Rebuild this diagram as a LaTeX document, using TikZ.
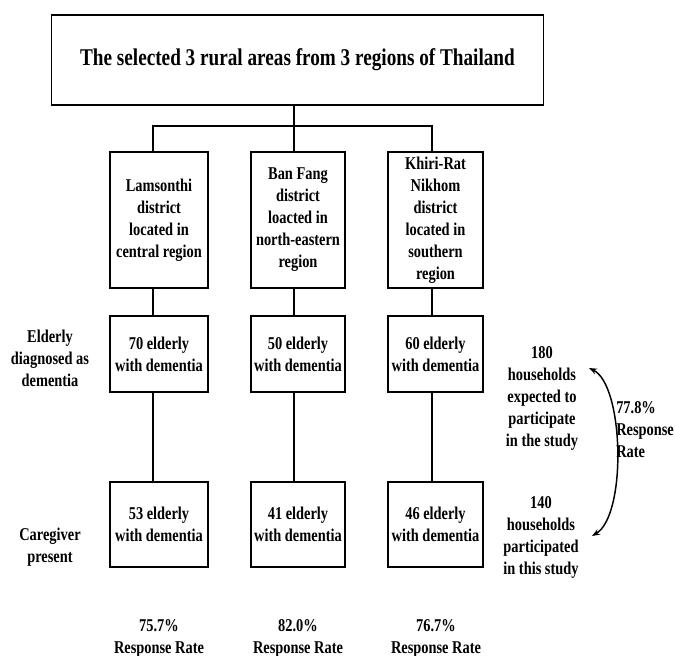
\documentclass[tikz,border=0pt]{standalone}
\usepackage{fontspec}
\setmainfont{Liberation Serif}[FakeStretch=0.8]
\usetikzlibrary{arrows.meta}
\begin{document}
\begin{tikzpicture}[x=0.75pt,y=-0.75pt,
  every node/.style={font=\bfseries\fontsize{13.5}{16.5}\selectfont, align=center, inner sep=0pt},
  box/.style={draw, line width=1.3pt},
  conn/.style={line width=1.4pt},
  curvearrow/.style={line width=1.1pt, >={Stealth[length=6pt,width=4.5pt]}, <->}]
\useasboundingbox (0,0) rectangle (675,656);
% top box
\node[box, minimum width=369pt, minimum height=67.5pt, font=\bfseries\fontsize{18}{21}\selectfont] (top) at (297.5,60) {The selected 3 rural areas from 3 regions of Thailand};
% row 1
\node[box, minimum width=73.5pt, minimum height=102pt] (d1) at (159,220) {Lamsonthi\\district\\located in\\central region};
\node[box, minimum width=71pt, minimum height=102pt] (d2) at (298,220) {Ban Fang\\district\\loacted in\\north-eastern\\region};
\node[box, minimum width=71.5pt, minimum height=102pt] (d3) at (435.5,220) {Khiri-Rat\\Nikhom\\district\\located in\\southern\\region};
% row 2
\node[box, minimum width=73.5pt, minimum height=57pt] (e1) at (159,354) {70 elderly\\with dementia};
\node[box, minimum width=71pt, minimum height=57pt] (e2) at (298,354) {50 elderly\\with dementia};
\node[box, minimum width=71.5pt, minimum height=57pt] (e3) at (435.5,354) {60 elderly\\with dementia};
% row 3
\node[box, minimum width=73.5pt, minimum height=63.75pt] (c1) at (159,524.5) {53 elderly\\with dementia};
\node[box, minimum width=71pt, minimum height=63.75pt] (c2) at (298,524.5) {41 elderly\\with dementia};
\node[box, minimum width=71.5pt, minimum height=63.75pt] (c3) at (435.5,524.5) {46 elderly\\with dementia};
% left labels
\node (lab1) at (50,358) {Elderly\\diagnosed as\\dementia};
\node (lab2) at (50,547) {Caregiver\\present};
% response rates
\node (r1) at (159,638) {75.7\%\\Response Rate};
\node (r2) at (298,638) {82.0\%\\Response Rate};
\node (r3) at (436,638) {76.7\%\\Response Rate};
% right texts
\node (exp) at (542,398) {180\\households\\expected to\\participate\\in the study};
\node (par) at (541,537) {140\\households\\participated\\in this study};
\node[align=left, anchor=west] (rr) at (616,430) {77.8\%\\Response\\Rate};
% connectors
\coordinate (bar) at (294,126);
\coordinate (b1) at (153,126);
\coordinate (b3) at (432,126);
\draw[conn] (bar |- top.south) -- (bar);
\draw[conn] (b1 |- d1.north) -- (b1) -- (b3) -- (b3 |- d3.north);
\draw[conn] (bar) -- (bar |- d2.north);
\draw[conn] (b1 |- d1.south) -- (b1 |- e1.north);
\draw[conn] (bar |- d2.south) -- (bar |- e2.north);
\draw[conn] (b3 |- d3.south) -- (b3 |- e3.north);
\draw[conn] (b1 |- e1.south) -- (b1 |- c1.north);
\draw[conn] (bar |- e2.south) -- (bar |- c2.north);
\draw[conn] (b3 |- e3.south) -- (b3 |- c3.north);
% curved arrow
\coordinate (a1) at (589,368);
\coordinate (a2) at (592,536);
\draw[curvearrow] (a1) .. controls (624,385) and (627,515) .. (a2);
\end{tikzpicture}
\end{document}
